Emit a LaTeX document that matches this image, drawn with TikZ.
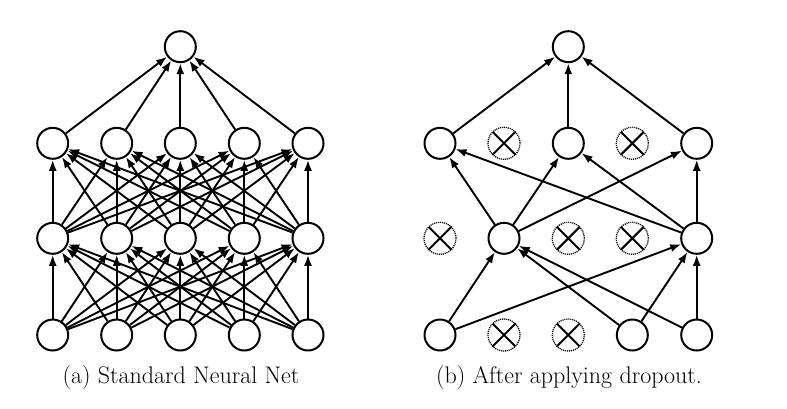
\documentclass[tikz,border=0pt]{standalone}
\usetikzlibrary{arrows.meta}
\begin{document}
\begin{tikzpicture}[x=1pt,y=-1pt,
  neuron/.style={circle,draw,line width=2pt,minimum size=31pt,inner sep=0pt},
  dropped/.style={circle,draw,dash pattern=on 1.1pt off 0.9pt,line width=1.3pt,minimum size=32pt,inner sep=0pt,
    path picture={\draw[line width=2pt,solid]
      (path picture bounding box.north west) -- (path picture bounding box.south east)
      (path picture bounding box.north east) -- (path picture bounding box.south west);}},
  conn/.style={-{Latex[length=11pt,width=8pt]},line width=1.9pt},
  caption/.style={font=\fontsize{24}{28}\selectfont,inner sep=0pt}]
\useasboundingbox (0,0) rectangle (787,408);
% ---------- (a) standard network ----------
\foreach \i/\x in {0/52.7,1/116.7,2/180.3,3/244.3,4/308}{
  \node[neuron] (a0\i) at (\x,335) {};
  \node[neuron] (a1\i) at (\x,238.3) {};
  \node[neuron] (a2\i) at (\x,143.3) {};
}
\node[neuron] (aout) at (180.3,46.7) {};
\foreach \i in {0,...,4}{
  \foreach \j in {0,...,4}{
    \draw[conn] (a0\i) -- (a1\j);
    \draw[conn] (a1\i) -- (a2\j);
  }
  \draw[conn] (a2\i) -- (aout);
}
\node[caption] (capa) at (181,378) {(a) Standard Neural Net};
% ---------- (b) after dropout ----------
\node[neuron]  (b00) at (440,335) {};
\node[dropped] (b01) at (504,335) {};
\node[dropped] (b02) at (568.3,335) {};
\node[neuron]  (b03) at (632.3,335) {};
\node[neuron]  (b04) at (696.7,335) {};
\node[dropped] (b10) at (440,238.3) {};
\node[neuron]  (b11) at (504,238.3) {};
\node[dropped] (b12) at (568.3,238.3) {};
\node[dropped] (b13) at (632.3,238.3) {};
\node[neuron]  (b14) at (696.7,238.3) {};
\node[neuron]  (b20) at (440,143.3) {};
\node[dropped] (b21) at (504,143.3) {};
\node[neuron]  (b22) at (568.3,143.3) {};
\node[dropped] (b23) at (632.3,143.3) {};
\node[neuron]  (b24) at (696.7,143.3) {};
\node[neuron]  (bout) at (568.3,46.7) {};
\foreach \i in {0,3,4}{
  \foreach \j in {1,4}{
    \draw[conn] (b0\i) -- (b1\j);
  }
}
\foreach \i in {1,4}{
  \foreach \j in {0,2,4}{
    \draw[conn] (b1\i) -- (b2\j);
  }
}
\foreach \i in {0,2,4}{
  \draw[conn] (b2\i) -- (bout);
}
\node[caption] (capb) at (569,378) {(b) After applying dropout.};
\end{tikzpicture}
\end{document}
